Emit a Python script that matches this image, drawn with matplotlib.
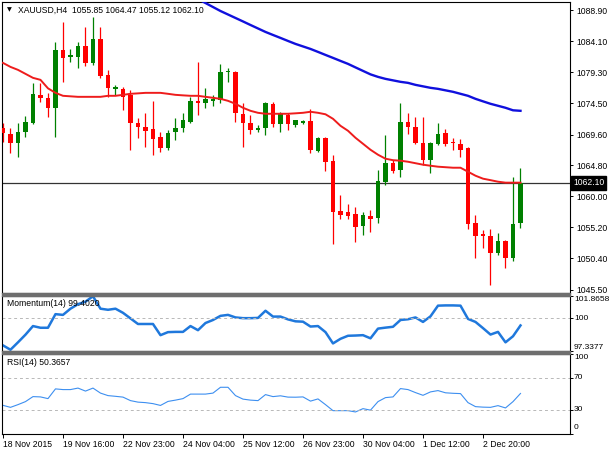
import numpy as np
import matplotlib
matplotlib.use("Agg")
import matplotlib.pyplot as plt
from matplotlib.patches import Rectangle
from matplotlib.transforms import blended_transform_factory

plt.rcParams['font.family'] = ['Liberation Sans', 'DejaVu Sans']

# XAUUSD H4 candles, 70 bars
opens = [1070.66, 1069.72, 1068.33, 1070.03, 1071.43, 1075.77, 1075.31, 1073.76, 1082.75, 1081.66,
         1081.66, 1083.37, 1080.73, 1084.45, 1078.87, 1076.70, 1076.70, 1075.77, 1071.43, 1070.81,
         1070.50, 1069.26, 1067.55, 1070.03, 1070.66, 1071.59, 1074.84, 1074.53, 1074.84, 1075.00,
         1079.34, 1079.34, 1072.83, 1071.43, 1070.35, 1070.66, 1074.38, 1071.28, 1072.67, 1071.12,
         1071.43, 1071.74, 1067.09, 1069.10, 1065.54, 1057.79, 1057.63, 1057.32, 1055.46, 1057.01,
         1056.70, 1062.28, 1065.23, 1064.14, 1071.59, 1070.81, 1068.33, 1065.69, 1068.17, 1069.88,
         1068.48, 1068.17, 1067.55, 1055.93, 1054.22, 1053.91, 1051.27, 1053.14, 1050.50, 1055.85]
highs = [1071.43, 1070.66, 1071.43, 1072.52, 1077.63, 1077.63, 1076.08, 1083.99, 1087.09, 1082.90,
         1083.99, 1086.31, 1087.86, 1086.31, 1079.65, 1077.32, 1077.01, 1076.55, 1072.21, 1072.98,
         1074.84, 1070.03, 1070.34, 1072.21, 1072.98, 1075.46, 1080.89, 1076.86, 1075.77, 1080.58,
         1079.96, 1079.49, 1074.53, 1072.67, 1071.12, 1074.69, 1074.69, 1073.14, 1072.98, 1071.90,
         1071.90, 1073.60, 1069.26, 1069.26, 1066.47, 1060.27, 1058.87, 1058.41, 1057.63, 1057.94,
         1064.14, 1069.57, 1065.69, 1074.53, 1072.98, 1072.36, 1072.36, 1068.50, 1071.43, 1070.50,
         1069.10, 1068.95, 1067.71, 1057.17, 1054.84, 1055.00, 1054.38, 1053.29, 1063.06, 1064.47]
lows = [1068.48, 1066.78, 1066.16, 1069.26, 1071.28, 1074.69, 1072.36, 1069.26, 1077.79, 1080.89,
        1079.96, 1080.27, 1080.42, 1078.41, 1075.46, 1075.77, 1073.45, 1067.24, 1069.10, 1067.71,
        1066.47, 1066.93, 1067.24, 1068.79, 1070.03, 1071.43, 1072.67, 1073.76, 1074.07, 1074.53,
        1077.79, 1071.59, 1067.71, 1069.72, 1070.03, 1069.57, 1070.81, 1070.03, 1070.35, 1070.81,
        1071.28, 1066.78, 1066.93, 1063.99, 1052.67, 1056.55, 1056.55, 1052.98, 1054.07, 1054.53,
        1055.93, 1061.82, 1063.68, 1063.06, 1069.72, 1068.17, 1064.92, 1063.68, 1068.02, 1067.86,
        1067.24, 1066.16, 1055.00, 1050.50, 1052.05, 1046.31, 1050.97, 1048.95, 1050.03, 1055.12]
closes = [1069.88, 1068.33, 1070.03, 1071.59, 1075.93, 1075.31, 1073.76, 1082.75, 1081.51, 1081.97,
          1083.37, 1080.73, 1084.45, 1078.72, 1076.86, 1077.01, 1075.46, 1071.43, 1070.81, 1070.19,
          1068.95, 1067.55, 1069.88, 1070.66, 1071.90, 1074.84, 1074.53, 1075.15, 1075.07, 1079.34,
          1079.49, 1072.98, 1071.43, 1070.35, 1070.66, 1074.53, 1071.28, 1072.98, 1071.28, 1071.90,
          1071.74, 1067.24, 1069.10, 1065.38, 1057.63, 1057.17, 1057.01, 1055.31, 1057.17, 1056.55,
          1062.44, 1065.23, 1063.99, 1071.59, 1070.81, 1068.33, 1065.69, 1068.33, 1069.72, 1068.17,
          1068.33, 1067.24, 1055.77, 1053.91, 1053.91, 1051.27, 1053.14, 1050.50, 1055.77, 1062.10]

# moving averages
ma_red = [1080.73, 1080.11, 1079.65, 1079.03, 1078.41, 1078.10, 1076.78, 1076.08, 1075.62, 1075.54,
          1075.46, 1075.46, 1075.46, 1075.46, 1075.62, 1075.62, 1075.77, 1075.93, 1076.00, 1076.08,
          1076.08, 1076.08, 1075.93, 1075.77, 1075.69, 1075.62, 1075.62, 1075.46, 1075.31, 1075.15,
          1074.84, 1074.38, 1073.76, 1073.29, 1072.98, 1072.83, 1072.83, 1072.83, 1072.83, 1072.90,
          1072.98, 1073.14, 1072.98, 1072.75, 1072.05, 1070.96, 1070.19, 1069.10, 1068.17, 1067.24,
          1066.47, 1065.85, 1065.62, 1065.54, 1065.38, 1065.15, 1064.92, 1064.76, 1064.61, 1064.53,
          1064.45, 1064.45, 1063.83, 1063.21, 1062.75, 1062.52, 1062.28, 1062.13, 1062.13, 1062.13]
ma_blue_start = 25
ma_blue = [1091.12, 1090.66, 1090.03, 1089.41, 1088.79, 1088.25, 1087.71, 1087.17, 1086.62, 1086.08,
           1085.54, 1085.07, 1084.61, 1084.14, 1083.68, 1083.29, 1082.90, 1082.44, 1081.97, 1081.51,
           1081.04, 1080.58, 1080.03, 1079.49, 1078.95, 1078.56, 1078.25, 1078.02, 1077.79, 1077.63,
           1077.32, 1077.09, 1076.86, 1076.70, 1076.47, 1076.24, 1075.93, 1075.62, 1075.15, 1074.76,
           1074.38, 1074.07, 1073.76, 1073.37, 1073.29]

momentum = [97.76, 97.40, 98.01, 98.64, 99.35, 99.21, 99.21, 100.33, 100.27, 100.78,
            101.15, 101.36, 101.80, 100.78, 100.69, 100.78, 100.44, 99.98, 99.52, 99.52,
            99.52, 98.60, 98.85, 98.87, 98.87, 99.35, 99.01, 99.60, 99.85, 100.19,
            100.27, 100.06, 100.00, 100.00, 100.02, 100.61, 100.13, 100.13, 99.90, 99.74,
            99.71, 99.31, 99.35, 98.85, 97.92, 98.30, 98.55, 98.57, 98.60, 98.34,
            99.14, 99.22, 99.29, 99.85, 99.91, 100.06, 99.69, 100.15, 101.03, 101.05,
            101.05, 101.03, 99.94, 99.69, 99.18, 98.65, 98.87, 98.01, 98.51, 99.40]
rsi = [35.43, 32.90, 36.31, 40.10, 46.40, 46.03, 43.88, 56.12, 55.24, 55.24,
       57.13, 53.34, 57.13, 50.82, 47.67, 46.78, 45.77, 41.36, 39.46, 38.83,
       37.57, 35.30, 40.35, 41.99, 43.88, 49.56, 49.56, 49.56, 50.82, 58.14,
       58.14, 47.67, 43.25, 41.99, 41.36, 48.93, 46.40, 47.41, 45.77, 45.65,
       46.03, 40.73, 43.50, 36.31, 28.74, 28.74, 28.74, 27.10, 31.26, 29.37,
       40.10, 45.14, 46.03, 56.50, 55.24, 51.45, 48.04, 52.33, 53.98, 51.20,
       50.57, 50.19, 38.83, 33.79, 33.16, 32.90, 35.05, 32.15, 40.10, 50.3657]

price_ticks = [1088.90, 1084.10, 1079.30, 1074.50, 1069.60, 1064.80, 1060.00, 1055.20, 1050.40, 1045.50]
time_ticks = [0, 8, 16, 24, 32, 40, 48, 56, 64]
time_labels = ["18 Nov 2015", "19 Nov 16:00", "22 Nov 23:00", "24 Nov 04:00", "25 Nov 12:00",
               "26 Nov 23:00", "30 Nov 04:00", "1 Dec 12:00", "2 Dec 20:00"]
mom_max, mom_min = 101.8658, 97.3377
last_price = closes[-1]

W, H = 610, 450
FS = 6.2
FS_IND = 6.0
BULL, BEAR = '#008000', '#ff0000'


def frame(top, bottom, left=2, right=570):
    return [left / W, 1 - bottom / H, (right - left) / W, (bottom - top) / H]


def style_axis(ax):
    ax.set_facecolor('white')
    for s in ax.spines.values():
        s.set_color('black')
        s.set_linewidth(0.8)
    ax.yaxis.tick_right()
    ax.tick_params(axis='y', direction='out', length=2.5, width=0.7, pad=2,
                   labelsize=FS, colors='black')
    ax.tick_params(axis='x', bottom=False, labelbottom=False)
    ax.set_xlim(-0.13, 75.6)


fig = plt.figure(figsize=(W / 100, H / 100), dpi=100, facecolor='white')
ax = fig.add_axes(frame(2, 292.5))
axm = fig.add_axes(frame(295.5, 350.5))
axr = fig.add_axes(frame(354, 433.5))
for a in (ax, axm, axr):
    style_axis(a)

# separators between panels
for top, bot in ((292.5, 295.5), (350.5, 354)):
    fig.patches.append(Rectangle((2 / W, 1 - bot / H), 568 / W, (bot - top) / H,
                                 transform=fig.transFigure, color='#6e6e6e', zorder=5))

x = np.arange(len(opens))
o = np.array(opens)
c = np.array(closes)
colors = [BULL if cc >= oo else BEAR for oo, cc in zip(o, c)]

# candles
ax.vlines(x, lows, highs, colors=colors, linewidth=0.9, zorder=2)
body_bottom = np.minimum(o, c)
body_h = np.maximum(np.abs(c - o), 0.16)
ax.bar(x, body_h, bottom=body_bottom, width=0.66, color=colors, linewidth=0, zorder=3)

ax.plot(x, ma_red, color='#ee1c1c', linewidth=1.4, zorder=4)
xb = np.arange(ma_blue_start, ma_blue_start + len(ma_blue))
ax.plot(xb, ma_blue, color='#1010dd', linewidth=1.7, zorder=4)

ax.axhline(last_price, color='#333333', linewidth=0.9, zorder=1)
ax.set_ylim(1045.07, 1090.19)
ax.set_yticks(price_ticks)
ax.set_yticklabels(['%.2f' % p for p in price_ticks])

trans = blended_transform_factory(ax.transAxes, ax.transData)
ax.text(1.0 + 3 / 568, last_price, '%.2f' % last_price, transform=trans, fontsize=FS,
        color='white', va='center', ha='left', clip_on=False, zorder=10,
        bbox=dict(boxstyle='square,pad=0.25', facecolor='black', edgecolor='black'))

ax.text(5 / 568, 1 - 8 / 290.5, u'\u25bc', transform=ax.transAxes, fontsize=4.5,
        va='center', ha='left', family=['DejaVu Sans'])
ax.text(16 / 568, 1 - 8 / 290.5, 'XAUUSD,H4  %.2f %.2f %.2f %.2f' % (opens[-1], highs[-1], lows[-1], closes[-1]),
        transform=ax.transAxes, fontsize=FS, va='center', ha='left')

# momentum
axm.plot(x, momentum, color='#1f78dc', linewidth=1.8)
axm.axhline(100, color='#b8b8b8', linewidth=0.7, linestyle=(0, (3, 3)))
axm.set_ylim(mom_min, mom_max)
axm.set_yticks([mom_min, 100, mom_max])
axm.set_yticklabels([])
tm = blended_transform_factory(axm.transAxes, axm.transData)
lx = 1.0 + 4 / 568
axm.text(lx, mom_max, '%.4f' % mom_max, transform=tm, fontsize=FS_IND, va='top', ha='left')
axm.text(lx, 100, '100', transform=tm, fontsize=FS_IND, va='center', ha='left')
axm.text(lx, mom_min, '%.4f' % mom_min, transform=tm, fontsize=FS_IND, va='bottom', ha='left')
axm.text(5 / 568, 0.86, 'Momentum(14) %.4f' % 99.4020, transform=axm.transAxes,
         fontsize=FS, va='center', ha='left')

# rsi
axr.plot(x, rsi, color='#3d8ff0', linewidth=0.8)
for lvl in (70, 30):
    axr.axhline(lvl, color='#b8b8b8', linewidth=0.7, linestyle=(0, (3, 3)))
axr.set_ylim(0, 100)
axr.set_yticks([0, 30, 70, 100])
axr.set_yticklabels([])
tr = blended_transform_factory(axr.transAxes, axr.transData)
axr.text(lx, 100, '100', transform=tr, fontsize=FS_IND, va='top', ha='left')
axr.text(lx, 70, '70', transform=tr, fontsize=FS_IND, va='center', ha='left')
axr.text(lx, 30, '30', transform=tr, fontsize=FS_IND, va='center', ha='left')
axr.text(lx, 3, '0', transform=tr, fontsize=FS_IND, va='bottom', ha='left')
axr.text(5 / 568, 0.89, 'RSI(14) %.4f' % rsi[-1], transform=axr.transAxes,
         fontsize=FS, va='center', ha='left')

axr.set_xticks(time_ticks)
axr.set_xticklabels(time_labels, ha='left')
axr.tick_params(axis='x', bottom=True, labelbottom=True, direction='out', length=3,
                width=0.7, pad=1.5, labelsize=FS)

fig.savefig('out.png', dpi=100, facecolor='white')
